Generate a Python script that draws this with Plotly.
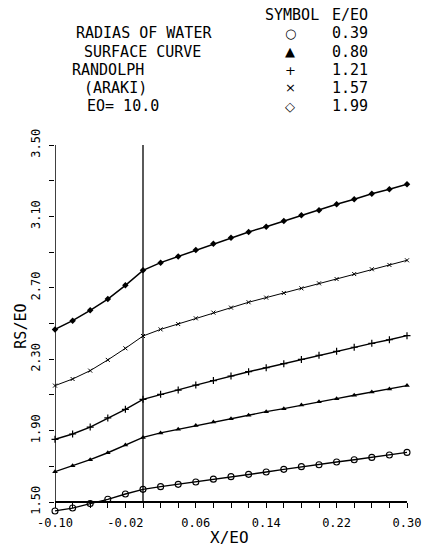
import plotly.graph_objects as go

# ---- data ----
x_over_e0 = [-0.10, -0.08, -0.06, -0.04, -0.02, 0.00, 0.02, 0.04, 0.06, 0.08, 0.10,
             0.12, 0.14, 0.16, 0.18, 0.20, 0.22, 0.24, 0.26, 0.28, 0.30]
rs_039 = [1.450, 1.466, 1.491, 1.515, 1.545, 1.571, 1.586, 1.599, 1.612, 1.628, 1.642,
          1.655, 1.668, 1.683, 1.698, 1.709, 1.724, 1.737, 1.750, 1.763, 1.778]
rs_080 = [1.670, 1.703, 1.737, 1.776, 1.819, 1.862, 1.887, 1.907, 1.928, 1.948, 1.967,
          1.986, 2.006, 2.023, 2.043, 2.062, 2.079, 2.098, 2.116, 2.133, 2.152]
rs_121 = [1.851, 1.881, 1.920, 1.971, 2.019, 2.075, 2.103, 2.127, 2.155, 2.180, 2.206,
          2.230, 2.252, 2.275, 2.299, 2.322, 2.344, 2.367, 2.389, 2.409, 2.432]
rs_157 = [2.152, 2.189, 2.236, 2.296, 2.361, 2.430, 2.467, 2.497, 2.529, 2.561, 2.589,
          2.619, 2.645, 2.671, 2.697, 2.725, 2.749, 2.777, 2.804, 2.828, 2.854]
rs_199 = [2.467, 2.516, 2.574, 2.637, 2.714, 2.798, 2.841, 2.876, 2.912, 2.947, 2.981,
          3.013, 3.042, 3.074, 3.106, 3.134, 3.168, 3.196, 3.227, 3.252, 3.280]

e_ratio_labels = ["0.39", "0.80", "1.21", "1.57", "1.99"]
legend_symbols = ["○", "▲", "+", "×", "◇"]
legend_left_text = ["RADIAS OF WATER", "SURFACE CURVE", "RANDOLPH", "(ARAKI)", "EO= 10.0"]

x_tickvals = [-0.10, -0.02, 0.06, 0.14, 0.22, 0.30]
x_ticktext = ["-0.10", "-0.02", "0.06", "0.14", "0.22", "0.30"]
y_tickvals = [1.50, 1.90, 2.30, 2.70, 3.10, 3.50]
y_ticktext = ["1.50", "1.90", "2.30", "2.70", "3.10", "3.50"]

# ---- layout geometry (pixels) ----
W, H = 433, 549
L, R, T, B = 55, 19, 145, 36
PW, PH = W - L - R, H - T - B
Y0, Y1 = 1.5, 3.5
px_per_unit = 357 / (Y1 - Y0)
y_min = Y0 - (H - B - 502) / px_per_unit  # extend below axis so lowest curve is visible


def px(xp):
    return (xp - L) / PW


def py(yp):
    return (H - B - yp) / PH


FONT = "DejaVu Sans Mono"
BLACK = "black"

fig = go.Figure()

series = [
    (rs_039, dict(symbol="circle-open", size=6, line=dict(width=1.1, color=BLACK)), 1.4),
    (rs_080, dict(symbol="triangle-up", size=5, color=BLACK), 1.4),
    (rs_121, dict(symbol="cross-thin", size=5, line=dict(width=1.2, color=BLACK)), 1.4),
    (rs_157, dict(symbol="x-thin", size=4, line=dict(width=1, color=BLACK)), 1.0),
    (rs_199, dict(symbol="diamond", size=5, color=BLACK), 1.5),
]
for ys, mk, lw in series:
    fig.add_trace(go.Scatter(
        x=x_over_e0, y=ys, mode="lines+markers",
        line=dict(color=BLACK, width=lw), marker=mk,
        cliponaxis=False, showlegend=False, hoverinfo="skip",
    ))

# vertical reference line at X/EO = 0 and y-axis line
fig.add_shape(type="line", xref="x", yref="y", x0=0, x1=0, y0=Y0, y1=Y1,
              line=dict(color=BLACK, width=1.3))
fig.add_shape(type="line", xref="x", yref="y", x0=x_tickvals[0], x1=x_tickvals[0],
              y0=Y0, y1=Y1, line=dict(color=BLACK, width=1.5))

fig.update_layout(
    width=W, height=H,
    margin=dict(l=L, r=R, t=T, b=B, pad=0),
    paper_bgcolor="white", plot_bgcolor="white",
    font=dict(family=FONT, color=BLACK, size=12),
    xaxis=dict(
        range=[-0.10, 0.30], anchor="free", position=(H - B - 502) / PH,
        showline=True, linecolor=BLACK, linewidth=1.5, mirror=False,
        showgrid=False, zeroline=False,
        tickmode="array", tickvals=x_tickvals, ticktext=x_ticktext,
        ticks="outside", ticklen=5, tickwidth=1, tickcolor=BLACK,
        minor=dict(dtick=0.02, tick0=-0.10, ticks="outside", ticklen=5,
                   tickwidth=1, tickcolor=BLACK),
        tickfont=dict(family=FONT, size=12),
        ticklabelstandoff=5,
    ),
    yaxis=dict(
        range=[y_min, Y1], showline=False, showgrid=False, zeroline=False,
        tickmode="array", tickvals=y_tickvals, ticktext=y_ticktext,
        ticks="outside", ticklen=5, tickwidth=1, tickcolor=BLACK,
        minor=dict(dtick=0.2, tick0=1.5, ticks="outside", ticklen=5,
                   tickwidth=1, tickcolor=BLACK),
        tickangle=-90, tickfont=dict(family=FONT, size=12),
        ticklabelstandoff=4,
    ),
)


def note(text, x, y, size=15, family=FONT, angle=0):
    return dict(text=text, x=px(x), y=py(y), xref="paper", yref="paper",
                xanchor="center", yanchor="middle", showarrow=False,
                textangle=angle, font=dict(family=family, size=size, color=BLACK))


ann = [
    note("X/EO", 233, 537, size=16),
    note("RS/EO", 20, 326, size=15, angle=-90),
    note("SYMBOL", 297, 15),
    note("E/EO", 356, 15),
]
row_y = [33, 52, 70, 88, 106]
left_cx = [146, 144, 109, 117, 124]
for i in range(5):
    ann.append(note(legend_left_text[i], left_cx[i], row_y[i]))
    ann.append(note(legend_symbols[i], 295, row_y[i], size=13, family="DejaVu Sans"))
    ann.append(note(e_ratio_labels[i], 356, row_y[i]))
fig.update_layout(annotations=ann)

fig.write_html("out.html")
